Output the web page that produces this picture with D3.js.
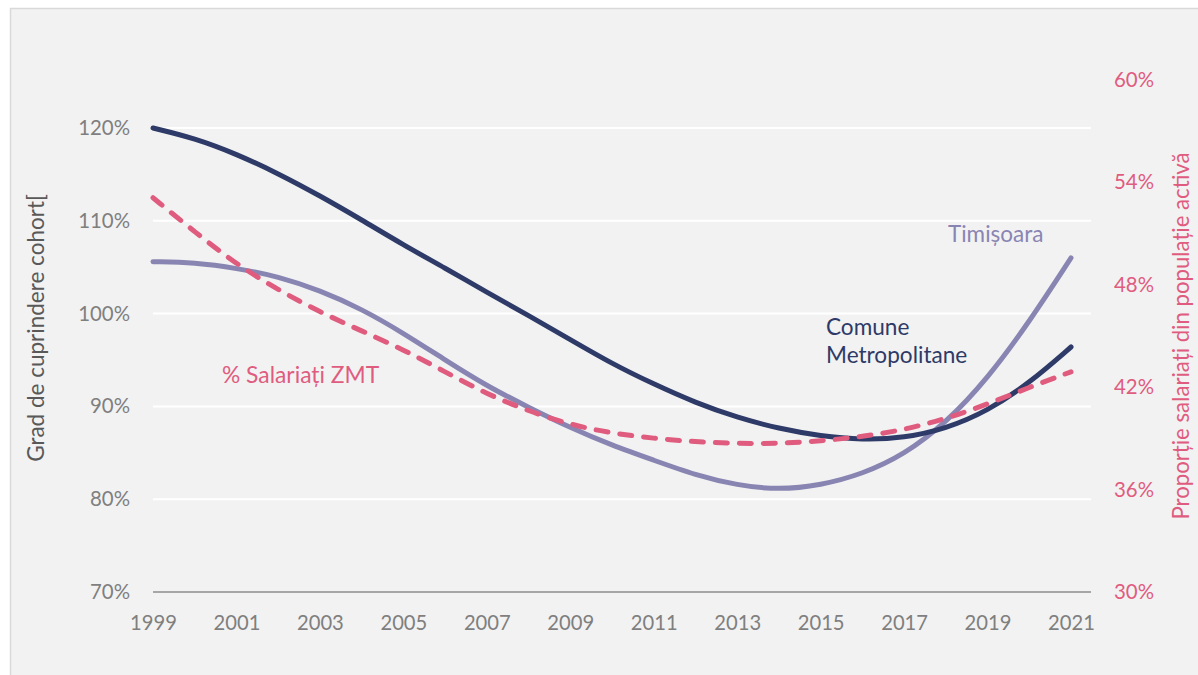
<!DOCTYPE html>
<html>
<head>
<meta charset="utf-8">
<script src="https://cdnjs.cloudflare.com/ajax/libs/d3/7.8.5/d3.min.js"></script>
<style>
  html, body { margin: 0; padding: 0; background: #ffffff; }
  svg { display: block; }
  text { font-family: Lato, "Open Sans", sans-serif; }
</style>
</head>
<body>
<svg id="chart" width="1198" height="675"></svg>
<script>
// Years on the horizontal axis
const years = d3.range(1999, 2022);
const yearLabels = years.filter(y => (y - 1999) % 2 === 0);

// Grad de cuprindere cohort (%), left axis
const comuneMetropolitane = [120.0, 118.9, 117.2, 115.1, 112.7, 110.1, 107.4, 104.9, 102.3, 99.8, 97.2, 94.6,
  92.4, 90.4, 88.8, 87.6, 86.8, 86.4, 86.6, 87.6, 89.5, 92.5, 96.4];
const timisoara = [105.6, 105.5, 104.9, 104.0, 102.5, 100.5, 97.9, 95.0, 92.2, 89.9, 87.7, 85.8,
  84.2, 82.6, 81.5, 81.0, 81.5, 82.7, 84.8, 88.2, 93.0, 99.1, 106.0];

// Proporție salariați din populație activă (%), right axis
const salariatiZMT = [53.1, 51.1, 49.2, 47.7, 46.4, 45.3, 44.2, 42.9, 41.6, 40.6, 39.8, 39.3,
  39.0, 38.8, 38.7, 38.7, 38.85, 39.1, 39.5, 40.15, 41.0, 42.0, 42.9];

const leftTicks = [70, 80, 90, 100, 110, 120];
const rightTicks = [30, 36, 42, 48, 54, 60];

const C_NAVY = "#2e3a67";
const C_LAV = "#8985b3";
const C_PINK = "#e05c7f";
const C_AXIS = "#7f7f7f";

const svg = d3.select("#chart");

// Panel background
svg.append("rect")
  .attr("x", 10.5).attr("y", 8.5)
  .attr("width", 1200).attr("height", 700)
  .attr("fill", "#f2f2f2")
  .attr("stroke", "#d9d9d9").attr("stroke-width", 1.5);

const x = d3.scaleLinear().domain([1999, 2021]).range([153, 1071]);
const yL = d3.scaleLinear().domain([70, 120]).range([592, 128]);
const yR = d3.scaleLinear().domain([30, 60]).range([592, 80]);
const plotRight = 1091;

// Horizontal gridlines
svg.append("g").selectAll("line")
  .data(leftTicks.filter(v => v > 70))
  .join("line")
  .attr("x1", 153).attr("x2", plotRight)
  .attr("y1", d => yL(d)).attr("y2", d => yL(d))
  .attr("stroke", "#ffffff").attr("stroke-width", 2);

// Category axis line
svg.append("line")
  .attr("x1", 153).attr("x2", plotRight)
  .attr("y1", yL(70)).attr("y2", yL(70))
  .attr("stroke", "#8c8c8c").attr("stroke-width", 1.6);

// Left axis labels
const leftAxis = d3.axisLeft(yL).tickValues(leftTicks).tickFormat(d => d + "%").tickSize(0).tickPadding(0);
const gL = svg.append("g").attr("transform", "translate(130,0)").call(leftAxis);
gL.select(".domain").remove();
gL.selectAll("text").attr("fill", C_AXIS).style("font-size", "20.4px").style("font-family", "Lato, sans-serif");

// Right axis labels
const rightAxis = d3.axisRight(yR).tickValues(rightTicks).tickFormat(d => d + "%").tickSize(0).tickPadding(0);
const gR = svg.append("g").attr("transform", "translate(1114,0)").call(rightAxis);
gR.select(".domain").remove();
gR.selectAll("text").attr("fill", C_PINK).style("font-size", "20.4px").style("font-family", "Lato, sans-serif");

// Bottom axis labels
const bottomAxis = d3.axisBottom(x).tickValues(yearLabels).tickFormat(d3.format("d")).tickSize(0).tickPadding(0);
const gB = svg.append("g").attr("transform", "translate(0,616)").call(bottomAxis);
gB.select(".domain").remove();
gB.selectAll("text").attr("fill", C_AXIS).style("font-size", "20.2px").style("font-family", "Lato, sans-serif")
  .attr("dy", "0.71em");

// Axis titles
svg.append("text")
  .attr("transform", "translate(44,328) rotate(-90)")
  .attr("text-anchor", "middle")
  .attr("fill", "#595959")
  .style("font-size", "22.5px")
  .text("Grad de cuprindere cohort[");

svg.append("text")
  .attr("transform", "translate(1189,336) rotate(-90)")
  .attr("text-anchor", "middle")
  .attr("fill", C_PINK)
  .style("font-size", "22.2px")
  .text("Proporție salariați din populație activă");

// Series lines
const lineL = d3.line().x((d, i) => x(years[i])).y(d => yL(d)).curve(d3.curveBasis);
const lineR = d3.line().x((d, i) => x(years[i])).y(d => yR(d)).curve(d3.curveBasis);

svg.append("path").datum(timisoara)
  .attr("d", lineL).attr("fill", "none")
  .attr("stroke", C_LAV).attr("stroke-width", 5).attr("stroke-linecap", "round");

svg.append("path").datum(comuneMetropolitane)
  .attr("d", lineL).attr("fill", "none")
  .attr("stroke", C_NAVY).attr("stroke-width", 5).attr("stroke-linecap", "round");

svg.append("path").datum(salariatiZMT)
  .attr("d", lineR).attr("fill", "none")
  .attr("stroke", C_PINK).attr("stroke-width", 5).attr("stroke-linecap", "round")
  .attr("stroke-dasharray", "12 12");

// Series labels
svg.append("text").attr("x", 948).attr("y", 234).attr("dy", "0.35em")
  .attr("fill", C_LAV).style("font-size", "22.5px").text("Timișoara");

svg.append("text").attr("x", 826).attr("y", 327).attr("dy", "0.35em")
  .attr("fill", C_NAVY).style("font-size", "22.6px").text("Comune");
svg.append("text").attr("x", 826).attr("y", 355).attr("dy", "0.35em")
  .attr("fill", C_NAVY).style("font-size", "22.6px").text("Metropolitane");

svg.append("text").attr("x", 222).attr("y", 375).attr("dy", "0.35em")
  .attr("fill", C_PINK).style("font-size", "22.8px").text("% Salariați ZMT");
</script>
</body>
</html>
